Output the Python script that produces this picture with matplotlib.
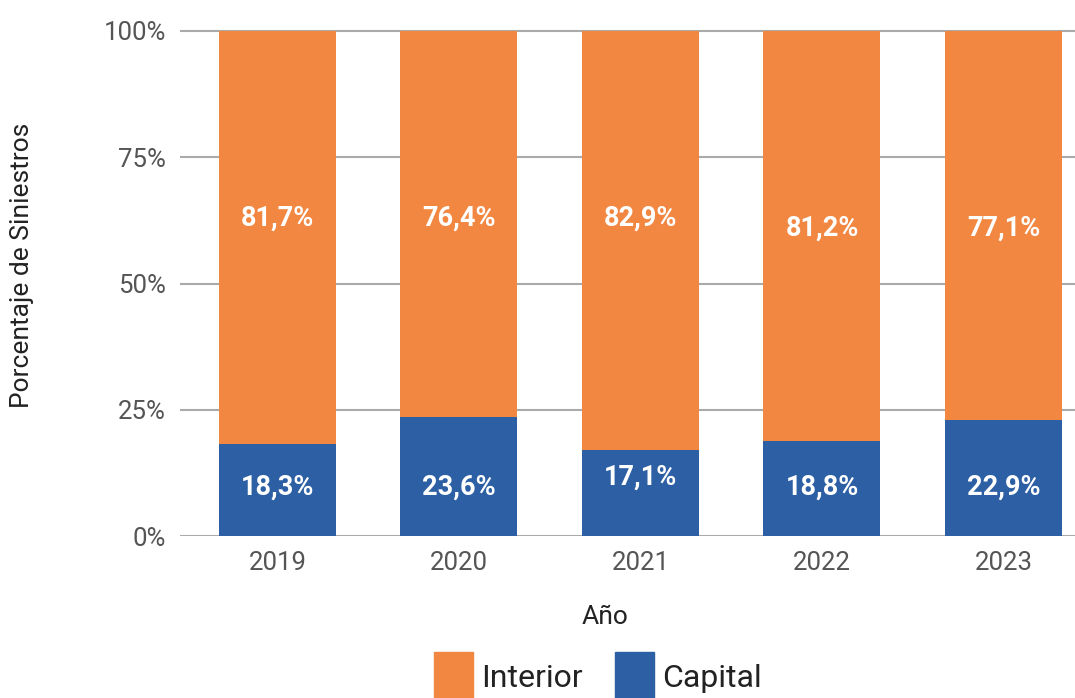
import matplotlib
matplotlib.use("Agg")
import matplotlib.pyplot as plt
from matplotlib.patches import Rectangle

plt.rcParams['font.family'] = ['Roboto', 'DejaVu Sans']

# data
years = ['2019', '2020', '2021', '2022', '2023']
capital = [18.3, 23.6, 17.1, 18.8, 22.9]
interior = [81.7, 76.4, 82.9, 81.2, 77.1]
capital_labels = ['18,3%', '23,6%', '17,1%', '18,8%', '22,9%']
interior_labels = ['81,7%', '76,4%', '82,9%', '81,2%', '77,1%']
# where the labels sit (in % units)
capital_label_y = [9.6, 9.6, 11.6, 9.6, 9.6]
interior_label_y = [62.9, 62.9, 62.9, 60.9, 60.9]
yticks = [0, 25, 50, 75, 100]
ytick_labels = ['0%', '25%', '50%', '75%', '100%']
series_names = ['Interior', 'Capital']

orange = '#F28742'
blue = '#2C5FA3'
W, H = 1075, 698

fig = plt.figure(figsize=(W / 100, H / 100), dpi=100)
ax = fig.add_axes([180 / W, 162 / H, 895 / W, 505 * 1.01 / H])

x = range(len(years))
ax.bar(x, capital, width=0.645, color=blue, zorder=2)
ax.bar(x, interior, bottom=capital, width=0.645, color=orange, zorder=2)

for i in x:
    ax.text(i, capital_label_y[i], capital_labels[i], color='white', fontsize=19.5,
            fontweight='bold', ha='center', va='center', zorder=3)
    ax.text(i, interior_label_y[i], interior_labels[i], color='white', fontsize=19.5,
            fontweight='bold', ha='center', va='center', zorder=3)

ax.set_xlim(-0.537, -0.537 + 895 / 181.5)
ax.set_ylim(0, 101)
ax.set_yticks(yticks)
ax.set_yticklabels(ytick_labels)
ax.set_xticks(list(x))
ax.set_xticklabels(years)
ax.tick_params(axis='both', length=0, labelsize=18.5, labelcolor='#555555')
ax.tick_params(axis='y', pad=10)
ax.tick_params(axis='x', pad=11)
ax.yaxis.grid(True, color='#AAAAAA', linewidth=1.5, zorder=1)
ax.set_axisbelow(True)
for s in ax.spines.values():
    s.set_visible(False)

fig.text(22 / W, 1 - 265 / H, 'Porcentaje de Siniestros', rotation=90,
         fontsize=19, color='#222222', ha='center', va='center')
fig.text(605 / W, 1 - 617 / H, 'Año', fontsize=19, color='#222222',
         ha='center', va='center')

# legend drawn by hand (it runs off the bottom edge in the original)
for name, col, px in zip(series_names, [orange, blue], [434, 615]):
    fig.patches.append(Rectangle((px / W, 0), 39 / W, 46 / H, color=col,
                                 transform=fig.transFigure))
    fig.text((px + 47) / W, 1 - 687 / H, name, fontsize=23, color='#222222',
             ha='left', va='baseline')

fig.savefig('out.png', dpi=100)
